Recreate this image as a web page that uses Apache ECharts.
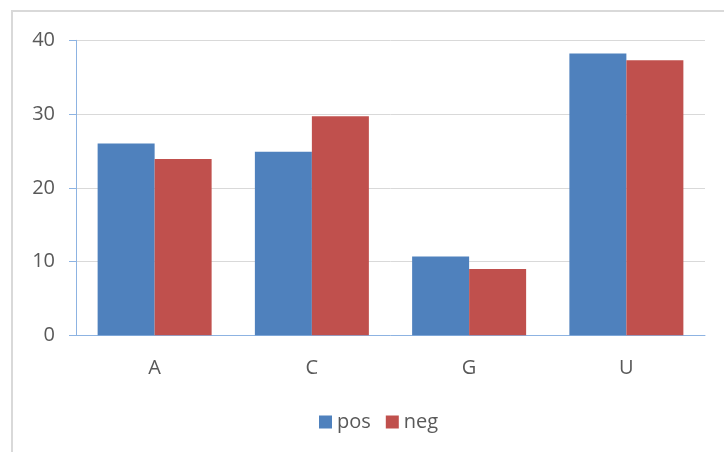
<!DOCTYPE html>
<html>
<head>
<meta charset="utf-8">
<script src="https://cdn.jsdelivr.net/npm/echarts@6/dist/echarts.min.js"></script>
<style>
  html, body { margin: 0; padding: 0; background: #fff; }
  #chart { width: 724px; height: 452px; }
</style>
</head>
<body>
<div id="chart"></div>
<script>
// Nucleotide categories and the two series plotted against them
const categories = ['A', 'C', 'G', 'U'];
const posValues = [26.0, 24.9, 10.7, 38.2];
const negValues = [23.9, 29.7, 9.0, 37.3];
const yTicks = { min: 0, max: 40, interval: 10 };

const textColor = '#595959';
const axisBlue = '#8db3e2';
const fontFamily = '"Open Sans", "Liberation Sans", sans-serif';

const chart = echarts.init(document.getElementById('chart'), null, { renderer: 'canvas' });

chart.setOption({
  animation: false,
  backgroundColor: '#ffffff',
  textStyle: { fontFamily: fontFamily },
  graphic: [{
    type: 'rect',
    shape: { x: 12, y: 11, width: 800, height: 600 },
    style: { fill: 'none', stroke: '#d9d9d9', lineWidth: 2 },
    silent: true,
    z: -10
  }],
  grid: { left: 76, right: 19, top: 40.3, bottom: 116.7, containLabel: false },
  legend: {
    data: ['pos', 'neg'],
    top: 407,
    left: 314,
    itemWidth: 13,
    itemHeight: 13,
    itemGap: 15,
    icon: 'rect',
    textStyle: { color: textColor, fontSize: 20, fontFamily: fontFamily }
  },
  xAxis: {
    type: 'category',
    data: categories,
    axisLine: { show: true, lineStyle: { color: axisBlue, width: 1 } },
    axisTick: { show: false },
    axisLabel: { color: textColor, fontSize: 20, margin: 23, fontFamily: fontFamily },
    splitLine: { show: false }
  },
  yAxis: {
    type: 'value',
    min: yTicks.min,
    max: yTicks.max,
    interval: yTicks.interval,
    axisLine: { show: true, lineStyle: { color: axisBlue, width: 1 } },
    axisTick: { show: true, length: 7, lineStyle: { color: axisBlue } },
    axisLabel: { color: textColor, fontSize: 20, margin: 21, fontFamily: fontFamily },
    splitLine: { show: true, lineStyle: { color: '#d9d9d9', width: 1 } }
  },
  series: [
    {
      name: 'pos',
      type: 'bar',
      data: posValues,
      barWidth: 57,
      barGap: '0%',
      itemStyle: { color: '#4f81bd' }
    },
    {
      name: 'neg',
      type: 'bar',
      data: negValues,
      barWidth: 57,
      barGap: '0%',
      itemStyle: { color: '#c0504d' }
    }
  ]
});
</script>
</body>
</html>
